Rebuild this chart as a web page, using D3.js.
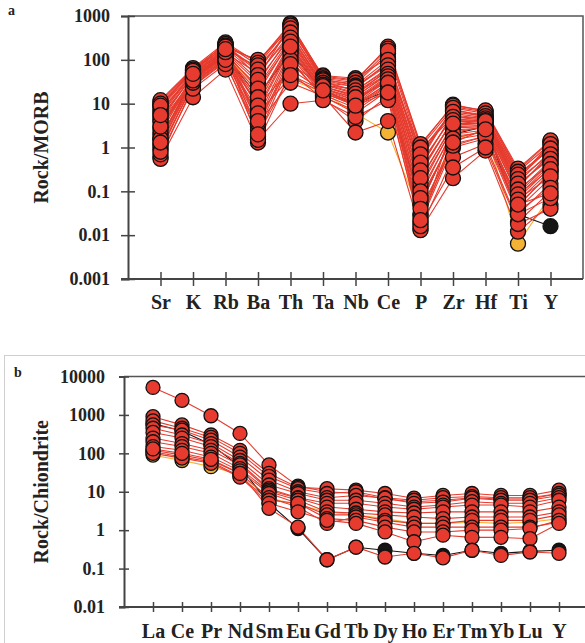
<!DOCTYPE html>
<html>
<head>
<meta charset="utf-8">
<script src="https://cdn.jsdelivr.net/npm/d3@7"></script>
<style>
  body { margin: 0; background: #fff; }
  svg text { font-family: 'Liberation Serif', 'Times New Roman', serif; font-weight: bold; fill: #222; }
</style>
</head>
<body>
<div id="chart"></div>
<script>
// panel a: trace elements normalised to MORB
const elementsA = ['Sr', 'K', 'Rb', 'Ba', 'Th', 'Ta', 'Nb', 'Ce', 'P', 'Zr', 'Hf', 'Ti', 'Y']
const ticksA = [0.001, 0.01, 0.1, 1, 10, 100, 1000]
const samplesA = [
  [11, 62, 220, 90, 680, 40, 33, 200, 1.1, 9.5, 6.8, 0.3, 1.4],
  [8.5, 58, 200, 55, 560, 35, 28, 140, 0.8, 7, 5.5, 0.22, 1.1],
  [6, 50, 190, 100, 500, 44, 38, 110, 0.5, 8.5, 6.5, 0.25, 0.9],
  [4.5, 45, 170, 70, 450, 30, 25, 80, 0.35, 6, 4.8, 0.18, 1.3],
  [9.5, 55, 240, 40, 620, 32, 20, 65, 0.9, 5, 4.2, 0.14, 0.6],
  [3.2, 40, 150, 30, 380, 28, 18, 55, 0.25, 4.5, 4, 0.12, 0.75],
  [2.2, 38, 130, 25, 300, 25, 15, 45, 0.18, 3.5, 3.5, 0.1, 0.5],
  [1.5, 35, 120, 12, 250, 22, 12, 40, 0.12, 3, 3.2, 0.08, 0.4],
  [7, 48, 160, 8, 200, 20, 10, 35, 0.08, 2.5, 2.8, 0.06, 0.3],
  [1.2, 30, 110, 5, 160, 18, 9, 30, 0.05, 2, 2.5, 0.05, 0.25],
  [0.9, 28, 100, 3, 120, 16, 8, 25, 0.03, 1.5, 2, 0.04, 0.2],
  [0.6, 25, 90, 1.8, 90, 15, 6, 20, 0.02, 1, 1.6, 0.03, 0.15],
  [0.55, 14, 60, 1.3, 50, 13, 4, 15, 0.014, 0.6, 1.2, 0.02, 0.1],
  [12, 65, 250, 85, 650, 42, 35, 180, 1.2, 9, 7, 0.33, 1.45],
  [5, 42, 140, 50, 350, 26, 22, 90, 0.6, 7.5, 5, 0.2, 1.0],
  [3.8, 36, 125, 18, 280, 24, 16, 60, 0.4, 5.5, 4.5, 0.16, 0.8],
  [2.8, 33, 115, 10, 220, 21, 14, 50, 0.3, 4, 3.8, 0.13, 0.65],
  [1.8, 32, 105, 7, 180, 19, 11, 38, 0.15, 2.8, 3, 0.09, 0.45],
  [1.0, 26, 95, 4, 140, 17, 10, 28, 0.06, 1.8, 2.2, 0.07, 0.35],
  [0.7, 22, 80, 2.5, 100, 14, 7, 22, 0.025, 1.2, 1.8, 0.045, 0.28],
  [10, 60, 230, 75, 600, 38, 30, 160, 1.0, 8, 6, 0.28, 1.2],
  [8, 52, 210, 60, 520, 36, 26, 100, 0.7, 6.5, 5.2, 0.24, 0.95],
  [6.5, 50, 180, 45, 420, 34, 24, 75, 0.45, 5, 4.6, 0.19, 0.7],
  [4, 46, 165, 35, 320, 30, 20, 60, 0.3, 4.2, 4.2, 0.15, 0.55],
  [2.5, 44, 145, 22, 260, 27, 17, 48, 0.2, 3.2, 3.6, 0.11, 0.42],
  [1.6, 40, 135, 14, 200, 23, 13, 42, 0.1, 2.2, 3, 0.085, 0.32],
  [1.1, 36, 120, 9, 60, 20, 12, 36, 0.07, 1.6, 2.4, 0.065, 0.22],
  [0.8, 30, 100, 6, 40, 18, 9, 26, 0.04, 1.1, 1.8, 0.035, 0.12],
  [3, 38, 170, 3.5, 30, 15, 2.2, 4, 0.013, 0.2, 0.85, 0.012, 0.05],
  [1.3, 34, 150, 1.5, 10, 12, 5, 12, 0.018, 0.35, 1, 0.018, 0.04],
  [9, 56, 200, 4, 80, 25, 14, 30, 0.016, 3.5, 4, 0.03, 0.07],
  [5.5, 48, 175, 2, 45, 20, 9, 18, 0.022, 1.3, 2.6, 0.05, 0.09]
]
const orangeA = [[2, 45, 140, 20, 35, 18, 6, 2.2, 0.03, 1.5, 2.5, 0.0064, 0.08]]
const blackA = [[1.5, 40, 120, 15, 150, 20, 10, 20, 0.05, 2, 3, 0.03, 0.016]]

// panel b: REE normalised to chondrite
const elementsB = ['La', 'Ce', 'Pr', 'Nd', 'Sm', 'Eu', 'Gd', 'Tb', 'Dy', 'Ho', 'Er', 'Tm', 'Yb', 'Lu', 'Y']
const ticksB = [0.01, 0.1, 1, 10, 100, 1000, 10000]
const samplesB = [
  [5200, 2400, 950, 330, 50, 14, 10, 9, 6.5, 5.5, 6, 7, 6.5, 6.5, 9],
  [900, 550, 300, 120, 30, 13, 12, 11, 9, 6.8, 8, 9, 8, 8, 11],
  [700, 450, 260, 100, 25, 12, 9, 10, 7, 6, 7, 7.5, 7, 7, 9],
  [550, 400, 220, 80, 20, 10, 7, 8, 6.8, 5, 5.4, 6.8, 6, 6, 8],
  [450, 300, 180, 65, 15, 9, 6, 6, 5, 4, 4.5, 5.5, 5, 5, 7],
  [350, 250, 150, 55, 12, 7, 5, 5, 4, 3.5, 4, 4.5, 4.5, 4, 6],
  [250, 180, 120, 50, 11, 6.8, 4, 3.5, 3, 2.8, 3, 3, 3, 3, 4],
  [200, 150, 100, 40, 10, 6, 3, 2.8, 2.5, 2.2, 2, 2.2, 2.2, 2.2, 3],
  [150, 120, 80, 35, 9, 5, 2.5, 2.5, 1.8, 1.5, 1.5, 1.8, 1.8, 1.8, 2.5],
  [120, 90, 65, 30, 7, 4, 1.5, 2.2, 1.6, 1.2, 1.2, 1.2, 1.2, 1.2, 1.6],
  [110, 80, 60, 25, 6, 5, 2, 1.8, 1.2, 0.9, 0.9, 1, 1, 1.1, 1.8],
  [100, 75, 55, 24, 5, 3, 1.8, 1.5, 0.9, 0.5, 0.74, 0.65, 0.65, 0.6, 1.5],
  [130, 100, 70, 30, 3.7, 1.2, 0.17, 0.36, 0.2, 0.25, 0.19, 0.3, 0.22, 0.27, 0.25]
]
const orangeB = [[90, 65, 45, 28, 7, 4.5, 3, 2.5, 2, 1.5, 1.5, 1.6, 1.5, 1.6, 2]]
const blackB = [[600, 380, 170, 45, 5, 1.1, 0.17, 0.36, 0.3, 0.25, 0.22, 0.3, 0.25, 0.28, 0.3]]

const RED = '#e63b2e'
const ORANGE = '#f5b335'
const BLACK = '#151515'

const svg = d3.select('#chart')
  .append('svg')
  .attr('width', 585)
  .attr('height', 643)

// frame around panel b
svg.append('rect')
  .attr('x', 4.5).attr('y', 355.5)
  .attr('width', 600).attr('height', 300)
  .attr('fill', 'none')
  .attr('stroke', '#cfcfcf')

function drawPanel (opt) {
  const x = d3.scalePoint()
    .domain(opt.elements)
    .range([opt.left, opt.right])
    .padding(1)
  const y = d3.scaleLog()
    .domain([opt.ticks[0], opt.ticks[opt.ticks.length - 1]])
    .range([opt.bottom, opt.top])

  const g = svg.append('g')

  // frame top / right
  g.append('path')
    .attr('d', `M${opt.left},${opt.top}H${opt.right}V${opt.bottom}`)
    .attr('fill', 'none')
    .attr('stroke', '#555')
    .attr('stroke-width', 1.5)

  const line = d3.line()
    .x((d, i) => x(opt.elements[i]))
    .y(d => y(d))

  const groups = [
    { rows: opt.orange, color: ORANGE },
    { rows: opt.black, color: BLACK },
    { rows: opt.samples, color: RED }
  ]
  groups.forEach(grp => {
    g.selectAll(null)
      .data(grp.rows)
      .enter()
      .append('path')
      .attr('d', line)
      .attr('fill', 'none')
      .attr('stroke', grp.color)
      .attr('stroke-width', 1.1)
  })
  groups.forEach(grp => {
    grp.rows.forEach(row => {
      g.selectAll(null)
        .data(row)
        .enter()
        .append('circle')
        .attr('cx', (d, i) => x(opt.elements[i]))
        .attr('cy', d => y(d))
        .attr('r', opt.r)
        .attr('fill', grp.color)
        .attr('stroke', '#111')
        .attr('stroke-width', 1.3)
    })
  })

  // y axis
  const yAxis = g.append('g')
    .attr('transform', `translate(${opt.left},0)`)
    .call(d3.axisLeft(y)
      .tickValues(opt.ticks)
      .tickFormat(d => String(d))
      .tickSize(opt.tick)
      .tickPadding(opt.pad))
  yAxis.select('.domain').attr('stroke', '#444').attr('stroke-width', 2)
  yAxis.selectAll('.tick line').attr('x1', opt.tick).attr('stroke', '#444').attr('stroke-width', 1.5)
  yAxis.selectAll('.tick text')
    .attr('font-size', 18)
    .attr('fill', '#222')

  // x axis
  const xAxis = g.append('g')
    .attr('transform', `translate(0,${opt.bottom})`)
    .call(d3.axisBottom(x)
      .tickSize(opt.tick)
      .tickPadding(opt.xpad))
  xAxis.select('.domain')
    .attr('d', `M${opt.left - opt.tick},0H${opt.right}`)
    .attr('stroke', '#444').attr('stroke-width', 2)
  xAxis.selectAll('.tick line').attr('y1', -opt.tick).attr('stroke', '#444').attr('stroke-width', 1.5)
  xAxis.selectAll('.tick text')
    .attr('font-size', 20)
    .attr('fill', '#222')

  // axis title
  g.append('text')
    .attr('transform', `translate(${opt.titleX},${(opt.top + opt.bottom) / 2}) rotate(-90)`)
    .attr('text-anchor', 'middle')
    .attr('font-size', 20)
    .text(opt.title)

  g.append('text')
    .attr('x', opt.letterX)
    .attr('y', opt.letterY)
    .attr('font-size', 14)
    .text(opt.letter)
}

drawPanel({
  elements: elementsA,
  ticks: ticksA,
  samples: samplesA,
  orange: orangeA,
  black: blackA,
  left: 128, right: 583, top: 16, bottom: 279,
  tick: 7, pad: 11, xpad: 9, r: 7.5,
  title: 'Rock/MORB', titleX: 48,
  letter: 'a', letterX: 8, letterY: 15
})

drawPanel({
  elements: elementsB,
  ticks: ticksB,
  samples: samplesB,
  orange: orangeB,
  black: blackB,
  left: 124, right: 588, top: 376.5, bottom: 607,
  tick: 5, pad: 14, xpad: 12, r: 7,
  title: 'Rock/Chiondrite', titleX: 48,
  letter: 'b', letterX: 14, letterY: 377
})
</script>
</body>
</html>
